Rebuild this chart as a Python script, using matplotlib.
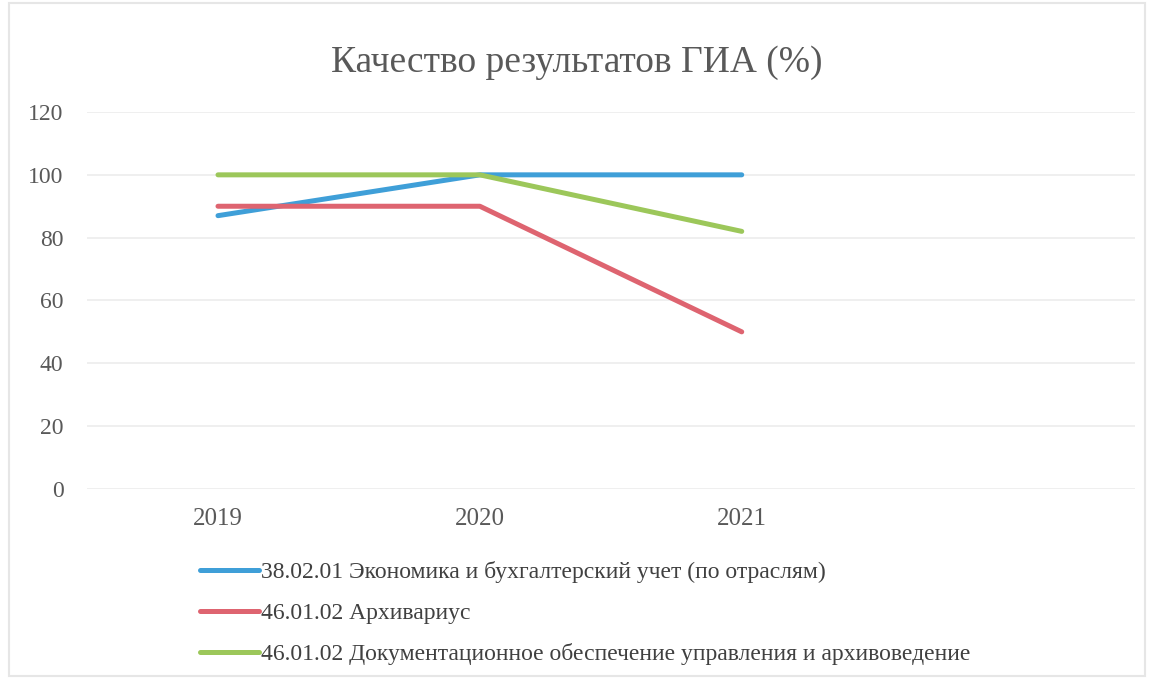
import numpy as np
import matplotlib.pyplot as plt
from matplotlib.patches import Rectangle

years = ['2019', '2020', '2021', '']
econ = [87, 100, 100]
archivist = [90, 90, 50]
docs = [100, 100, 82]
labels = ['38.02.01 Экономика и бухгалтерский учет (по отраслям)',
          '46.01.02 Архивариус',
          '46.01.02 Документационное обеспечение управления и архивоведение']
colors = ['#3f9fd8', '#de6470', '#9cc75a']

plt.rcParams['font.family'] = ['Liberation Serif', 'DejaVu Serif']

fig = plt.figure(figsize=(11.53, 6.79), dpi=100)
fig.patches.append(Rectangle((0.008, 0.005), 0.985, 0.99, transform=fig.transFigure,
                             fill=False, edgecolor='#e6e6e6', linewidth=1.5))
ax = fig.add_axes([0.0755, 0.28, 0.9085, 0.555])

x = np.arange(len(years))
for series, lab, c in zip([econ, archivist, docs], labels, colors):
    ax.plot(x[:len(series)], series, color=c, linewidth=3.6, label=lab,
            solid_capstyle='round')

ax.set_xlim(-0.5, len(years) - 0.5)
ax.set_ylim(0, 120)
ax.set_yticks(range(0, 121, 20))
ax.set_xticks(x)
ax.set_xticklabels(years)
ax.grid(axis='y', color='#ececec', linewidth=1.2)
ax.set_axisbelow(True)
for s in ax.spines.values():
    s.set_visible(False)
ax.tick_params(axis='x', length=0, labelsize=18, labelcolor='#595959', pad=14)
ax.tick_params(axis='y', length=0, labelsize=17, labelcolor='#595959', pad=17)

fig.text(0.5, 0.908, 'Качество результатов ГИА (%)', ha='center', va='center',
         fontsize=27, color='#595959')

fig.legend(loc='upper left', bbox_to_anchor=(0.155, 0.205), frameon=False,
           fontsize=17, handlelength=2.5, handletextpad=0.08, labelspacing=0.82,
           labelcolor='#404040')

fig.savefig('out.png', dpi=100, facecolor='white')
